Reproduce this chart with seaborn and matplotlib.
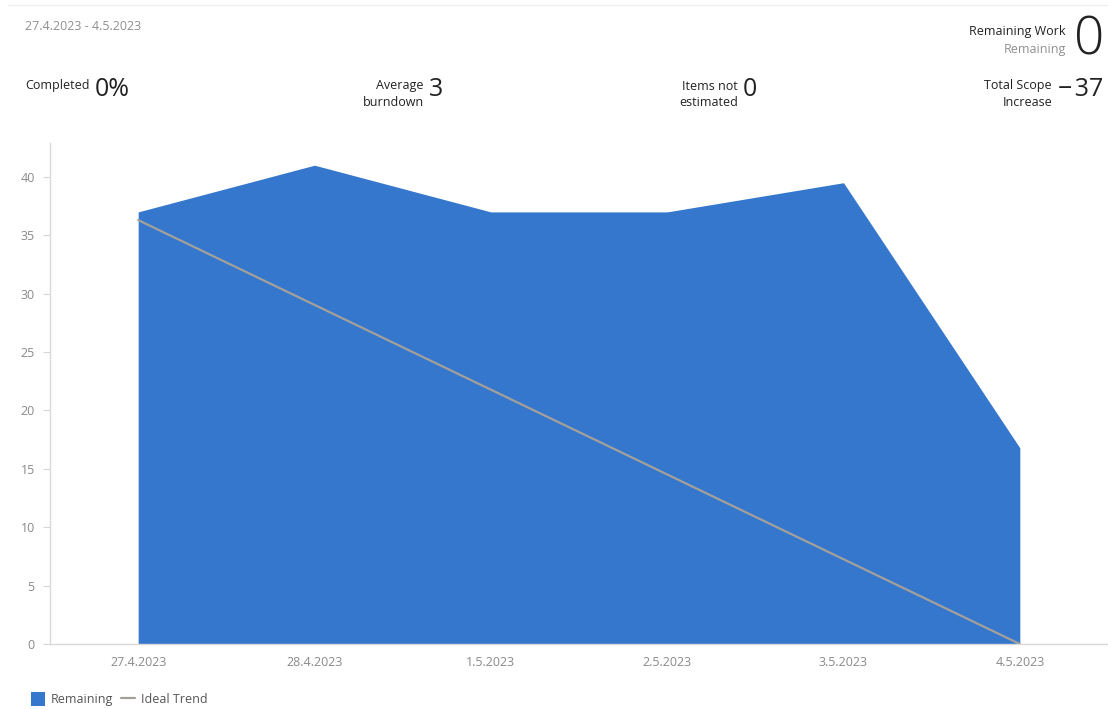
import matplotlib
matplotlib.use("Agg")
import matplotlib.pyplot as plt
import seaborn as sns
import pandas as pd
import numpy as np
from matplotlib.patches import Rectangle
from matplotlib.lines import Line2D

# Sprint burndown data
dates = ["27.4.2023", "28.4.2023", "1.5.2023", "2.5.2023", "3.5.2023", "4.5.2023"]
remaining = [37.0, 41.0, 37.0, 37.0, 39.5, 16.8]
ideal_start = 36.3
ideal_end = 0.0
y_ticks = [0, 5, 10, 15, 20, 25, 30, 35, 40]

sns.set_theme(style="white")
plt.rcParams["font.family"] = ["Open Sans", "DejaVu Sans"]

BLUE = "#3477cc"
TREND = "#a3a09b"
TICK = "#8a8a8a"
DARK = "#222222"
SMALL = 9
NUM = 18

fig = plt.figure(figsize=(11.08, 7.09), dpi=100)
ax = fig.add_axes([50 / 1108, (709 - 644) / 709, (1108 - 50) / 1108, (644 - 143) / 709])

x = np.arange(len(dates))
df = pd.DataFrame({"x": x, "Remaining": remaining,
                   "Ideal Trend": np.linspace(ideal_start, ideal_end, len(dates))})

ax.fill_between(df["x"], 0, df["Remaining"], color=BLUE, linewidth=0)
sns.lineplot(data=df, x="x", y="Ideal Trend", ax=ax, color=TREND, linewidth=1.6)

ax.set_xlim(-0.5, 5.5)
ax.set_ylim(0, 42.9)
ax.set_xticks(x)
ax.set_xticklabels(dates)
ax.set_yticks(y_ticks)
ax.set_xlabel("")
ax.set_ylabel("")
ax.tick_params(axis="x", length=0, pad=9, labelsize=SMALL, labelcolor=TICK)
ax.tick_params(axis="y", length=5, width=0.8, color="#d6d6d6", pad=6, labelsize=SMALL, labelcolor=TICK, left=True)
for side in ("top", "right"):
    ax.spines[side].set_visible(False)
for side in ("left", "bottom"):
    ax.spines[side].set_color("#d9d9d9")
    ax.spines[side].set_linewidth(1.0)

# Legend along the bottom
leg_handles = [Rectangle((0, 0), 1, 1, facecolor=BLUE, edgecolor="none"),
               Line2D([0], [0], color=TREND, linewidth=1.6)]
fig.legend(leg_handles, ["Remaining", "Ideal Trend"], loc="lower left",
           bbox_to_anchor=(20 / 1108, -0.012), ncol=2, frameon=False,
           fontsize=SMALL, handlelength=1.1, handleheight=1.4, handletextpad=0.5,
           columnspacing=0.6, labelcolor="#555555")

# Header statistics
def fx(px):
    return px / 1108

def fy(py):
    return 1 - py / 709

fig.text(fx(25), fy(27), "27.4.2023 - 4.5.2023", fontsize=SMALL, color="#8f8f8f", va="center")

fig.text(fx(25), fy(86), "Completed", fontsize=SMALL, color=DARK, va="center")
fig.text(fx(95), fy(90), "0%", fontsize=NUM, color=DARK, va="center")

fig.text(fx(424), fy(94), "Average\nburndown", fontsize=SMALL, color=DARK, va="center",
         ha="right", multialignment="right", linespacing=1.3)
fig.text(fx(429), fy(90), "3", fontsize=NUM, color=DARK, va="center")

fig.text(fx(738), fy(94), "Items not\nestimated", fontsize=SMALL, color=DARK, va="center",
         ha="right", multialignment="right", linespacing=1.3)
fig.text(fx(743), fy(90), "0", fontsize=NUM, color=DARK, va="center")

fig.text(fx(1052), fy(94), "Total Scope\nIncrease", fontsize=SMALL, color=DARK, va="center",
         ha="right", multialignment="right", linespacing=1.3)
fig.text(fx(1058), fy(90), "\u2212\u200a37", fontsize=NUM, color=DARK, va="center")

fig.text(fx(1066), fy(32), "Remaining Work", fontsize=SMALL, color=DARK, va="center", ha="right")
fig.text(fx(1066), fy(50), "Remaining", fontsize=SMALL, color="#8f8f8f", va="center", ha="right")
fig.text(fx(1074), fy(41), "0", fontsize=38, color=DARK, va="center", fontweight="light")

# Faint card border along the top
fig.add_artist(Line2D([fx(8), 1], [fy(5), fy(5)], color="#eeeeee", linewidth=1))

fig.savefig("out.png", dpi=100, facecolor="white")
